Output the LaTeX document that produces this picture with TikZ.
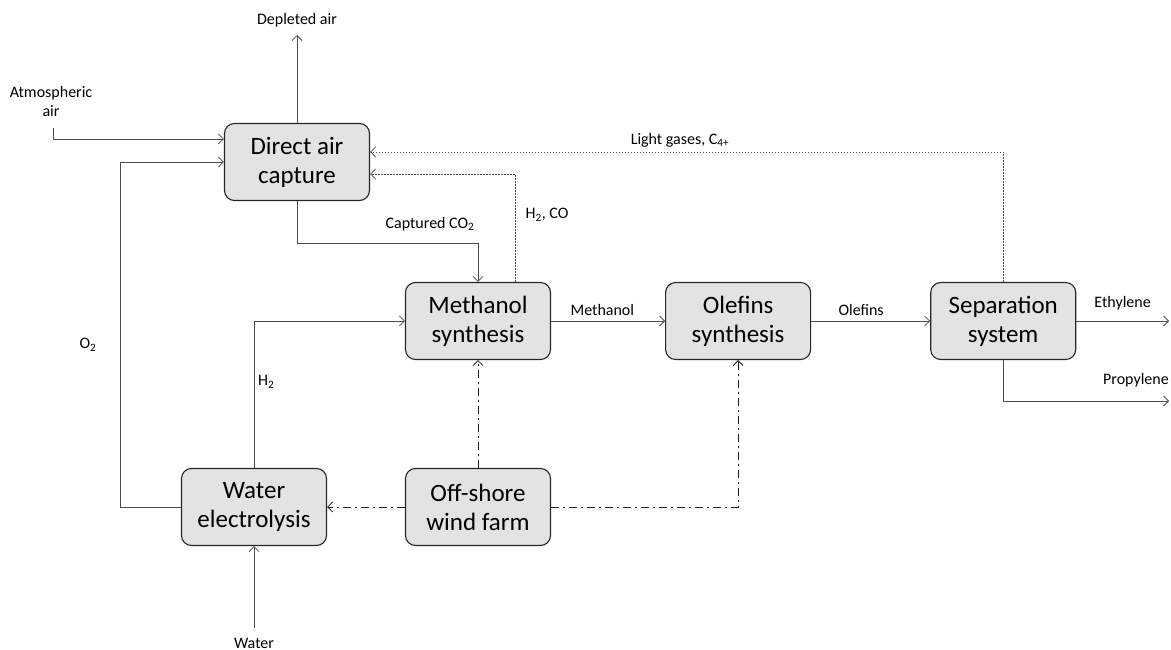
\documentclass[tikz,border=0pt]{standalone}
\usepackage{fontspec}
\setmainfont{Carlito}
\usetikzlibrary{arrows.meta, positioning}

\begin{document}
\begin{tikzpicture}[
    x=1pt, y=-1pt,
    >={Straight Barb[length=5pt, width=10pt]},
    unit/.style={draw=black!85, line width=1.1pt, rounded corners=10pt,
                 fill=black!11, minimum width=145pt, minimum height=77pt,
                 inner sep=0pt, align=center, font=\fontsize{25}{29}\selectfont},
    lbl/.style={font=\fontsize{16}{19}\selectfont, align=center, inner sep=1pt},
    flow/.style={->, draw=black!70, line width=0.8pt},
    recycle/.style={flow, dash pattern=on 1.6pt off 1.4pt},
    power/.style={flow, draw=black!90, dash pattern=on 8pt off 4pt on 2pt off 4pt}
  ]
  \useasboundingbox (0,0) rectangle (1171,650);

  \node[unit] (dac) at (297,162) {Direct air\\capture};
  \node[unit] (meoh) at (478,321) {Methanol\\synthesis};
  \node[unit, right=114pt of meoh] (olef) {Olefins\\synthesis};
  \node[unit, right=119pt of olef] (sep) {Separation\\system};
  \node[unit] (elec) at (254,507) {Water\\electrolysis};
  \node[unit] (wind) at (478,507) {Off-shore\\wind farm};

  \coordinate (air) at (53,128);
  \coordinate (depl) at (297,35);
  \coordinate (water) at (254,628);
  \coordinate (eth) at (1169,321);
  \coordinate (prop) at (1169,401);

  % feeds and products
  \node[lbl] (lair) at (51,102) {Atmospheric\\air};
  \draw[flow] (air) |- ([yshift=23pt]dac.west);
  \node[lbl] (ldepl) at (297,20) {Depleted air};
  \draw[flow] (dac.north) -- (depl);
  \node[lbl] (lwater) at (254,643) {Water};
  \draw[flow] (water) -- (elec.south);
  \draw[flow] (sep) -- (eth) node[lbl, midway, above=10pt] {Ethylene};
  \draw[flow] (sep.south) |- (prop);
  \node[lbl] (lprop) at (1136,380) {Propylene};

  % main process line
  \draw[flow] (dac.south) -- ++(0,42) -| (meoh.north);
  \node[lbl] (lco2) at (430,224) {Captured CO\textsubscript{2}};
  \draw[flow] (elec.north) |- (meoh.west);
  \node[lbl, anchor=west] (lh2) at (257,382) {H\textsubscript{2}};
  \draw[flow] (elec.west) -- ++(-61,0) |- (dac.west);
  \node[lbl] (lo2) at (88,345) {O\textsubscript{2}};
  \draw[flow] (meoh) -- (olef) node[lbl, pos=0.45, above=4pt] {Methanol};
  \draw[flow] (olef) -- (sep) node[lbl, pos=0.42, above=4pt] {Olefins};

  % recycles
  \draw[recycle] ([xshift=37pt]meoh.north) |- ([yshift=-12pt]dac.east);
  \node[lbl] (lsyn) at (547,215) {H\textsubscript{2}, CO};
  \draw[recycle] (sep.north) |- ([yshift=10pt]dac.east);
  \node[lbl] (llight) at (680,140) {Light gases, C\textsubscript{4+}};

  % electricity
  \draw[power] (wind) -- (elec);
  \draw[power] (wind) -- (meoh);
  \draw[power] (wind.east) -| (olef.south);
\end{tikzpicture}
\end{document}
